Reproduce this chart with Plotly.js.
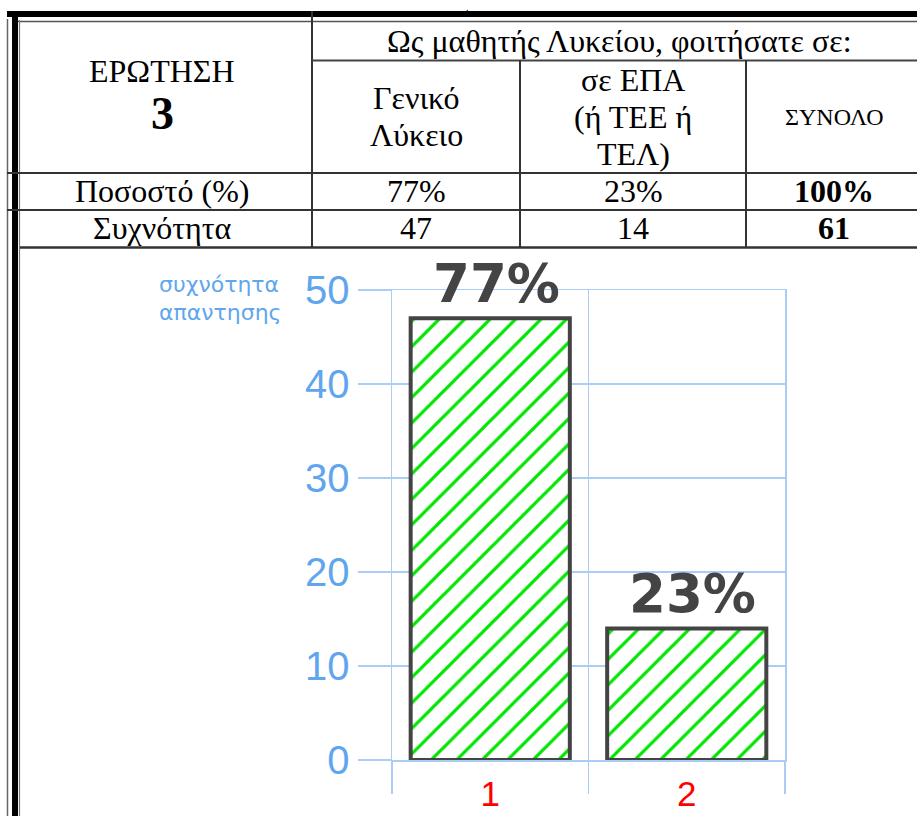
<!DOCTYPE html>
<html>
<head>
<meta charset="utf-8">
<script src="https://cdn.plot.ly/plotly-3.0.1.min.js"></script>
<style>html,body{margin:0;padding:0;background:#fff;}#chart{width:917px;height:816px;}</style>
</head>
<body>
<div id="chart"></div>
<script>
// ---- data ----
const categories = ['1', '2'];
const frequencies = [47, 14];
const percentLabels = ['77%', '23%'];
const yTickVals = [0, 10, 20, 30, 40, 50];

const questionLabel = 'ΕΡΩΤΗΣΗ';
const questionNumber = '3';
const groupHeader = 'Ως μαθητής Λυκείου, φοιτήσατε σε:';
const colHeaderLines = [['Γενικό', 'Λύκειο'], ['σε ΕΠΑ', '(ή ΤΕΕ ή', 'ΤΕΛ)'], ['ΣΥΝΟΛΟ']];
const rowLabels = ['Ποσοστό (%)', 'Συχνότητα'];
const percentRow = ['77%', '23%', '100%'];
const freqRow = ['47', '14', '61'];
const yAxisLabelLines = ['συχνότητα', 'απαντησης'];

// ---- layout helpers (pixel -> paper) ----
const W = 917, H = 816, ML = 392, MR = 132, MT = 290, MB = 56;
const PW = W - ML - MR, PH = H - MT - MB;
const px = x => (x - ML) / PW;
const py = y => (H - MB - y) / PH;

const serif = 'Liberation Serif, Times New Roman, serif';
const blue = '#5fa6ee';
const grid = '#a9cdf5';

const shapes = [];
function hline(x0, x1, y, w, c) {
  shapes.push({type: 'line', xref: 'paper', yref: 'paper', x0: px(x0), x1: px(x1), y0: py(y), y1: py(y), line: {color: c, width: w}});
}
function vline(x, y0, y1, w, c) {
  shapes.push({type: 'line', xref: 'paper', yref: 'paper', x0: px(x), x1: px(x), y0: py(y0), y1: py(y1), line: {color: c, width: w}});
}
// table frame
hline(7, 917, 14, 6, '#000');
hline(12, 917, 21.5, 1.5, '#555');
vline(7.5, 19, 816, 1.5, '#666');
vline(15, 11, 816, 6, '#000');
vline(19.5, 20, 816, 1.2, '#777');
vline(312, 11, 247, 2, '#333');
hline(312, 917, 60.5, 2, '#444');
vline(520, 60, 247, 2, '#333');
vline(746, 60, 247, 2, '#333');
hline(7, 917, 173, 2, '#333');
hline(7, 917, 210, 2, '#333');
hline(20, 917, 247.5, 2.5, '#333');

const annotations = [];
function txt(x, y, text, size, opts) {
  opts = opts || {};
  annotations.push({xref: 'paper', yref: 'paper', x: px(x), y: py(y), text: text, showarrow: false,
    xanchor: opts.xanchor || 'center', yanchor: 'middle',
    font: {family: opts.family || serif, size: size, color: opts.color || '#000'}});
}
txt(467, 8, '.', 10);
txt(162, 71, questionLabel, 32);
txt(162, 113, '<b>' + questionNumber + '</b>', 46);
txt(619, 41, groupHeader, 32);
const colCenters = [416, 633, 834];
const lineY = {2: [98, 135], 3: [80, 117, 154], 1: [117]};
colHeaderLines.forEach((lines, i) => {
  lines.forEach((l, j) => txt(colCenters[i], lineY[lines.length][j], l, lines.length === 1 ? 24 : 32));
});
txt(162, 191, rowLabels[0], 32);
txt(162, 228, rowLabels[1], 32);
percentRow.forEach((v, i) => txt(colCenters[i], 191, i === 2 ? '<b>' + v + '</b>' : v, 32));
freqRow.forEach((v, i) => txt(colCenters[i], 228, i === 2 ? '<b>' + v + '</b>' : v, 32));
yAxisLabelLines.forEach((l, j) => txt(157, 284 + j * 28, l, 22, {xanchor: 'left', family: 'DejaVu Sans, sans-serif', color: blue}));

// bar value labels (x by category index)
categories.forEach((c, i) => {
  annotations.push({xref: 'x', yref: 'y', x: i, y: frequencies[i], text: '<b>' + percentLabels[i] + '</b>',
    showarrow: false, xanchor: 'center', yanchor: 'bottom', yshift: 2, xshift: 6,
    font: {family: 'DejaVu Sans, sans-serif', size: 53, color: '#444'}});
});

const trace = {
  type: 'bar', x: categories, y: frequencies, width: 0.81,
  marker: {color: '#fff', line: {color: '#444', width: 4},
    pattern: {shape: '/', fgcolor: '#00e600', bgcolor: '#ffffff', size: 18, solidity: 0.18, fillmode: 'replace'}},
  cliponaxis: false, hoverinfo: 'skip'
};

const layout = {
  width: W, height: H, margin: {l: ML, r: MR, t: MT, b: MB, pad: 0},
  paper_bgcolor: '#fff', plot_bgcolor: 'rgba(0,0,0,0)', showlegend: false,
  xaxis: {type: 'category', range: [-0.5, 1.5], tickson: 'boundaries', ticks: 'outside', ticklen: 32, tickwidth: 1.5,
    tickcolor: grid, showgrid: true, gridcolor: grid, gridwidth: 1.5, showline: true, mirror: true, linecolor: grid, linewidth: 1.5,
    zeroline: false, ticklabelstandoff: 2, tickfont: {family: 'Liberation Sans, Arial, sans-serif', size: 35, color: '#ff0000'}, fixedrange: true},
  yaxis: {range: [0, 50], tickmode: 'array', tickvals: yTickVals, ticks: 'outside', ticklen: 33, tickwidth: 1.5, tickcolor: grid,
    showgrid: true, gridcolor: grid, gridwidth: 1.5, zeroline: false, showline: true, mirror: true, linecolor: grid, linewidth: 1.5,
    tickfont: {family: 'Liberation Sans, Arial, sans-serif', size: 40, color: blue}, fixedrange: true},
  shapes: shapes, annotations: annotations
};

Plotly.newPlot('chart', [trace], layout, {displayModeBar: false, staticPlot: true});
</script>
</body>
</html>
